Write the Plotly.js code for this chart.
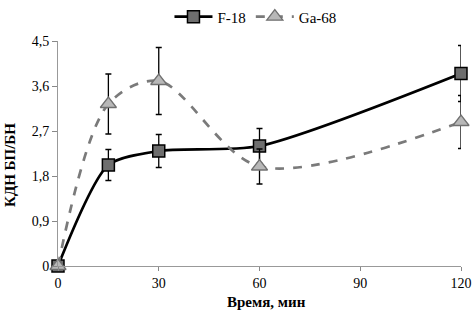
<!DOCTYPE html>
<html><head><meta charset="utf-8">
<script src="https://cdn.plot.ly/plotly-3.0.1.min.js"></script>
<style>html,body{margin:0;padding:0;background:#fff}#c{width:475px;height:316px}</style>
</head><body><div id="c"></div>
<script>
const time = [0, 15, 30, 60, 120];
const f18 = [0, 2.02, 2.30, 2.40, 3.85];
const f18Err = [0, 0.31, 0.33, 0.35, 0.56];
const ga68 = [0, 3.24, 3.70, 1.99, 2.88];
const ga68Err = [0, 0.60, 0.67, 0.35, 0.53];
const yTickVals = [0, 0.9, 1.8, 2.7, 3.6, 4.5];
const yTickText = ['0', '0,9', '1,8', '2,7', '3,6', '4,5'];
const xTickVals = [0, 30, 60, 90, 120];

const FAM = 'Times New Roman, Liberation Serif, DejaVu Serif, serif';
function f(size, extra) { return Object.assign({family: FAM, size: size, color: '#000'}, extra || {}); }
const traces = [
  {x: time, y: f18, name: 'F-18', mode: 'lines+markers', type: 'scatter', cliponaxis: false,
   line: {color: '#000', width: 2.7, shape: 'spline', smoothing: 0.7},
   marker: {symbol: 'square', size: 12, color: '#6e6e6e', line: {color: '#000', width: 1.5}},
   error_y: {type: 'data', array: f18Err, visible: true, color: '#000', thickness: 1.3, width: 3}},
  {x: time, y: ga68, name: 'Ga-68', mode: 'lines+markers', type: 'scatter', cliponaxis: false,
   line: {color: '#7a7a7a', width: 2.7, dash: 'dash', shape: 'spline', smoothing: 0.9},
   marker: {symbol: 'triangle-up', size: 14, color: '#b8b8b8', line: {color: '#707070', width: 1.3}},
   error_y: {type: 'data', array: ga68Err, visible: true, color: '#000', thickness: 1.3, width: 3}}
];
const layout = {
  width: 475, height: 316,
  margin: {l: 58, r: 14, t: 41, b: 50, autoexpand: false},
  paper_bgcolor: '#fff', plot_bgcolor: '#fff',
  font: f(13),
  showlegend: true,
  legend: {orientation: 'h', x: 0.49, xanchor: 'center', y: 1.107, yanchor: 'middle',
           font: f(15), itemwidth: 38},
  xaxis: {range: [0, 120], tickvals: xTickVals, ticks: 'outside', ticklen: 4, tickcolor: '#888',
          showline: true, linecolor: '#999', linewidth: 1, showgrid: false, zeroline: false,
          tickfont: f(14)},
  yaxis: {range: [0, 4.5], tickvals: yTickVals, ticktext: yTickText, ticks: 'outside', ticklen: 5, tickcolor: '#888',
          showline: true, linecolor: '#999', linewidth: 1, showgrid: false, zeroline: false,
          tickfont: f(14)},
  annotations: [
    {text: '<b>Время, мин</b>', xref: 'paper', yref: 'paper', x: (266 - 58) / 403, y: 0,
     yshift: -36, xanchor: 'center', yanchor: 'middle', showarrow: false, font: f(15)},
    {text: '<b>КДН БП/БН</b>', xref: 'paper', yref: 'paper', x: 0, y: (266 - 165) / 225,
     xshift: -48, xanchor: 'center', yanchor: 'middle', textangle: -90, showarrow: false, font: f(15)}
  ]
};
Plotly.newPlot('c', traces, layout, {staticPlot: true, displayModeBar: false});
</script></body></html>
